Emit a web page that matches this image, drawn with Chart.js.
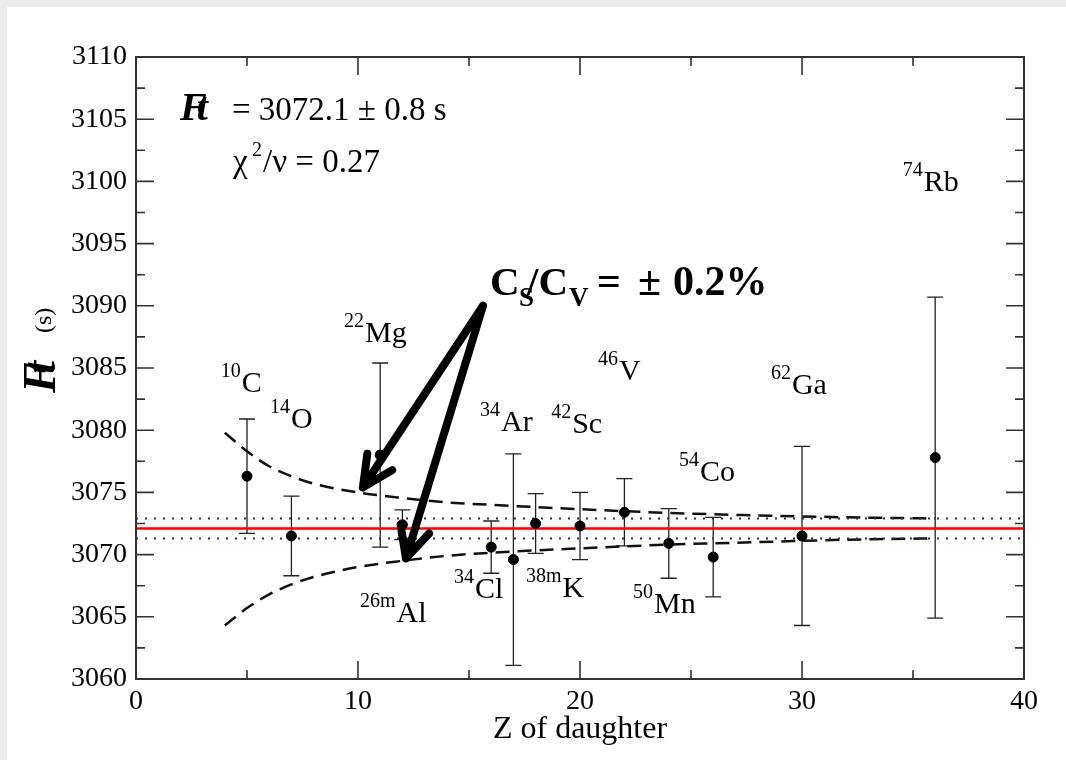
<!DOCTYPE html>
<html>
<head>
<meta charset="utf-8">
<script src="https://cdn.jsdelivr.net/npm/chart.js@4.4.1/dist/chart.umd.min.js"></script>
<style>
  html, body { margin: 0; padding: 0; background: #ececec; overflow: hidden; }
  #sheet { position: absolute; left: 7px; top: 7px; width: 1059px; height: 753px; background: #fff; }
  #plot { position: absolute; left: 0; top: 0; }
</style>
</head>
<body>
<div id="sheet"></div>
<canvas id="plot" width="1066" height="760"></canvas>
<script>
// Corrected Ft values of the superallowed 0+ -> 0+ emitters, by Z of the daughter
const nuclideMass = ['10', '14', '22', '26m', '34', '34', '38m', '42', '46', '50', '54', '62', '74']
const nuclideSym = ['C', 'O', 'Mg', 'Al', 'Cl', 'Ar', 'K', 'Sc', 'V', 'Mn', 'Co', 'Ga', 'Rb']
const zDaughter = [5, 7, 11, 12, 16, 17, 18, 20, 22, 24, 26, 30, 36]
const ftValue = [3076.3, 3071.5, 3078.0, 3072.4, 3070.6, 3069.6, 3072.5, 3072.3, 3073.4, 3070.9, 3069.8, 3071.5, 3077.8]
const ftError = [4.6, 3.2, 7.4, 1.2, 2.1, 8.5, 2.4, 2.7, 2.7, 2.8, 3.2, 7.2, 12.9]

// weighted average
const ftAverage = 3072.1
const ftAverageErr = 0.8
const chiPerDof = '0.27'

// expected trend for a scalar current Cs/Cv = +-0.2%
const bandZ = [4, 5, 6, 7, 8, 10, 12, 14, 16, 20, 24, 28, 32, 36]
const bandUpper = [3079.8, 3078.3, 3077.1, 3076.3, 3075.7, 3075.0, 3074.55, 3074.2, 3074.0, 3073.65, 3073.35, 3073.15, 3073.0, 3072.9]
const bandLower = [3064.3, 3065.7, 3066.8, 3067.6, 3068.2, 3069.0, 3069.5, 3069.9, 3070.15, 3070.5, 3070.8, 3071.0, 3071.2, 3071.3]

// axes
const zRange = [0, 40]
const zStep = 10
const ftRange = [3060, 3110]
const ftStep = 5

// where each nuclide name sits (data units: left edge, baseline)
const labelAt = [
  [3.82, 3083.1], [6.04, 3080.15], [9.37, 3087.1], [10.09, 3064.6],
  [14.32, 3066.5], [15.5, 3079.9], [17.57, 3066.6], [18.7, 3079.8],
  [20.81, 3084.0], [22.39, 3065.3], [24.46, 3075.9], [28.6, 3082.9],
  [34.54, 3099.2]
]
// arrows from the Cs/Cv note to the two band edges
const arrowFrom = [15.63, 3090.0]
const arrowTips = [[10.22, 3075.4], [12.16, 3069.7]]

const serif = "'Liberation Serif', 'Times New Roman', serif"

function drawFt(ctx, x, y, size) {
  ctx.font = `italic bold ${size}px ${serif}`
  ctx.fillText('F', x, y)
  ctx.fillText('t', x + size * 0.42, y)
}

function drawIsotope(ctx, x, y, mass, sym) {
  ctx.font = `20px ${serif}`
  ctx.fillText(mass, x, y - 15)
  const w = ctx.measureText(mass).width
  ctx.font = `30px ${serif}`
  ctx.fillText(sym, x + w + 1, y)
}

function drawArrow(ctx, x0, y0, x1, y1) {
  const ang = Math.atan2(y0 - y1, x0 - x1)
  const len = 34
  const spread = 26 * Math.PI / 180
  ctx.beginPath()
  ctx.moveTo(x0, y0)
  ctx.lineTo(x1, y1)
  ctx.moveTo(x1 + len * Math.cos(ang - spread), y1 + len * Math.sin(ang - spread))
  ctx.lineTo(x1, y1)
  ctx.lineTo(x1 + len * Math.cos(ang + spread), y1 + len * Math.sin(ang + spread))
  ctx.stroke()
}

// error bars under the points
const errorBars = {
  id: 'errorBars',
  beforeDatasetsDraw(chart) {
    const { ctx, scales: { x, y } } = chart
    ctx.save()
    ctx.strokeStyle = '#222'
    ctx.lineWidth = 1.3
    zDaughter.forEach((z, i) => {
      const px = x.getPixelForValue(z)
      const top = y.getPixelForValue(ftValue[i] + ftError[i])
      const bot = y.getPixelForValue(ftValue[i] - ftError[i])
      ctx.beginPath()
      ctx.moveTo(px, top); ctx.lineTo(px, bot)
      ctx.moveTo(px - 8, top); ctx.lineTo(px + 8, top)
      ctx.moveTo(px - 8, bot); ctx.lineTo(px + 8, bot)
      ctx.stroke()
    })
    ctx.restore()
  }
}

// box frame with inward major/minor ticks on all four sides
const frame = {
  id: 'frame',
  afterDatasetsDraw(chart) {
    const { ctx, chartArea: a, scales: { x, y } } = chart
    ctx.save()
    ctx.strokeStyle = '#333'
    ctx.lineWidth = 2
    ctx.strokeRect(a.left, a.top, a.right - a.left, a.bottom - a.top)
    ctx.lineWidth = 1.6
    const marks = (scale) => {
      const vals = scale.ticks.map(t => t.value)
      const out = []
      vals.forEach((v, i) => {
        out.push([v, true])
        if (i < vals.length - 1) out.push([(v + vals[i + 1]) / 2, false])
      })
      return out
    }
    ctx.beginPath()
    marks(y).forEach(([v, major]) => {
      const py = y.getPixelForValue(v)
      const len = major ? 18 : 9
      ctx.moveTo(a.left, py); ctx.lineTo(a.left + len, py)
      ctx.moveTo(a.right, py); ctx.lineTo(a.right - len, py)
    })
    marks(x).forEach(([v, major]) => {
      const px = x.getPixelForValue(v)
      const len = major ? 18 : 9
      ctx.moveTo(px, a.bottom); ctx.lineTo(px, a.bottom - len)
      ctx.moveTo(px, a.top); ctx.lineTo(px, a.top + len)
    })
    ctx.stroke()
    ctx.restore()
  }
}

// labels, fit result, Cs/Cv note and the y-axis title
const notes = {
  id: 'notes',
  afterDraw(chart) {
    const { ctx, scales: { x, y } } = chart
    const at = (p) => [x.getPixelForValue(p[0]), y.getPixelForValue(p[1])]
    ctx.save()
    ctx.fillStyle = '#000'
    ctx.textBaseline = 'alphabetic'
    ctx.textAlign = 'left'

    nuclideSym.forEach((sym, i) => {
      const [px, py] = at(labelAt[i])
      drawIsotope(ctx, px, py, nuclideMass[i], sym)
    })

    // fit result
    drawFt(ctx, 180, 120, 40)
    ctx.font = `33px ${serif}`
    ctx.fillText(`= ${ftAverage.toFixed(1)} \u00b1 ${ftAverageErr.toFixed(1)} s`, 232, 120)
    ctx.fillText('\u03c7', 233, 172)
    ctx.font = `20px ${serif}`
    ctx.fillText('2', 252, 156)
    ctx.font = `33px ${serif}`
    ctx.fillText(`/\u03bd = ${chiPerDof}`, 263, 172)

    // Cs/Cv note
    const nx = 490, ny = 295
    ctx.font = `bold 41px ${serif}`
    ctx.fillText('C', nx, ny)
    ctx.fillText('/C', nx + 37, ny)
    ctx.font = `bold 42px ${serif}`
    ctx.fillText('=', nx + 107, ny)
    ctx.fillText('\u00b1', nx + 148, ny)
    ctx.fillText('0.2%', nx + 183, ny)
    ctx.font = `bold 27px ${serif}`
    ctx.fillText('S', nx + 29, ny + 11)
    ctx.fillText('V', nx + 79, ny + 11)

    // arrows
    ctx.strokeStyle = '#000'
    ctx.lineWidth = 8
    ctx.lineCap = 'round'
    ctx.lineJoin = 'round'
    const [sx, sy] = at(arrowFrom)
    arrowTips.forEach(tip => {
      const [tx, ty] = at(tip)
      drawArrow(ctx, sx, sy, tx, ty)
    })

    // y-axis title, rotated
    ctx.translate(55, 393)
    ctx.rotate(-Math.PI / 2)
    drawFt(ctx, 0, 0, 46)
    ctx.font = `24px ${serif}`
    ctx.fillText('(s)', 60, -4)
    ctx.restore()
  }
}

const pts = (xs, ys) => xs.map((v, i) => ({ x: v, y: ys[i] }))
const flat = (v) => zRange.map(z => ({ x: z, y: v }))

const dashed = { type: 'line', borderColor: '#111', borderWidth: 2.5, borderDash: [14, 8], pointRadius: 0, cubicInterpolationMode: 'monotone', fill: false, order: 3 }
const dotted = { type: 'line', borderColor: '#333', borderWidth: 2, borderDash: [2, 7], pointRadius: 0, fill: false, order: 2 }

new Chart(document.getElementById('plot').getContext('2d'), {
  type: 'scatter',
  data: {
    datasets: [
      { ...dashed, data: pts(bandZ, bandUpper) },
      { ...dashed, data: pts(bandZ, bandLower) },
      { ...dotted, data: flat(ftAverage + ftAverageErr) },
      { ...dotted, data: flat(ftAverage - ftAverageErr) },
      { type: 'line', data: flat(ftAverage), borderColor: '#ff0000', borderWidth: 2.5, pointRadius: 0, fill: false, order: 1 },
      { data: pts(zDaughter, ftValue), backgroundColor: '#000', borderColor: '#000', pointRadius: 5, pointHoverRadius: 5, order: 0 }
    ]
  },
  options: {
    responsive: false,
    animation: false,
    events: [],
    layout: { padding: { top: 57, right: 42, left: 0, bottom: 0 } },
    plugins: { legend: { display: false }, tooltip: { enabled: false } },
    scales: {
      x: {
        type: 'linear',
        min: zRange[0], max: zRange[1],
        grid: { display: false, drawTicks: false },
        border: { display: false },
        ticks: { stepSize: zStep, color: '#000', padding: 6, font: { family: serif, size: 28 }, callback: v => String(v) },
        title: { display: true, text: 'Z of daughter', color: '#000', font: { family: serif, size: 32 }, padding: { top: 0, bottom: 11 } },
        afterFit(scale) { scale.height = 81 }
      },
      y: {
        type: 'linear',
        min: ftRange[0], max: ftRange[1],
        grid: { display: false, drawTicks: false },
        border: { display: false },
        ticks: { stepSize: ftStep, color: '#000', padding: 9, font: { family: serif, size: 28 }, callback: v => String(v) },
        afterFit(scale) { scale.width = 136 }
      }
    }
  },
  plugins: [errorBars, frame, notes]
})
</script>
</body>
</html>
